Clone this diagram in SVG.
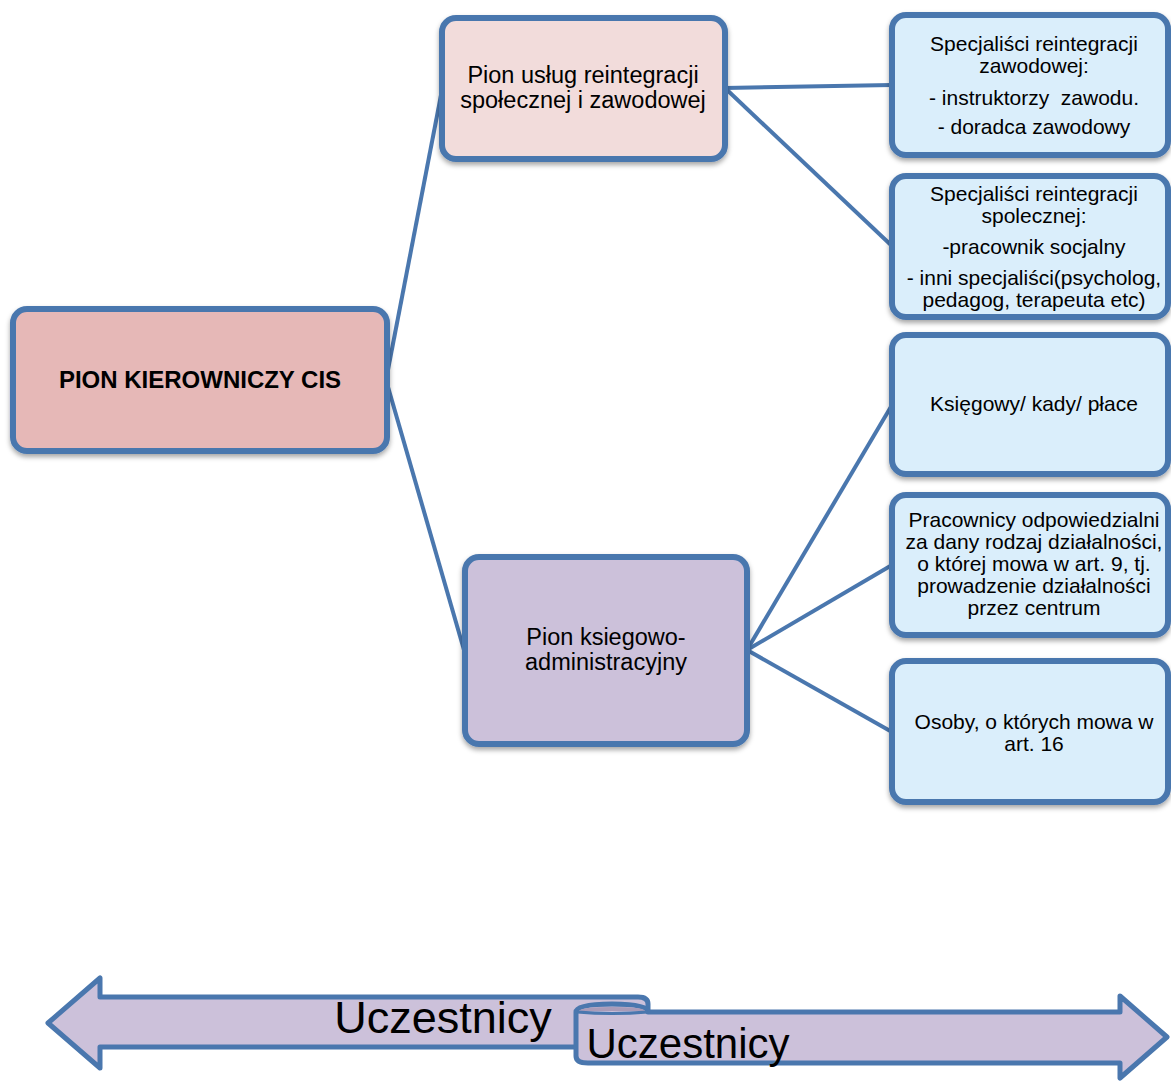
<svg xmlns="http://www.w3.org/2000/svg" width="1171" height="1081" viewBox="0 0 1171 1081">
<defs>
<filter id="sh" x="-10%" y="-10%" width="120%" height="130%">
<feDropShadow dx="0" dy="3" stdDeviation="2.5" flood-color="#000" flood-opacity="0.35"/>
</filter>
<style>
.box{stroke:#4a77ae;stroke-width:6;filter:url(#sh)}
.root{fill:#e6b8b7}
.l1a{fill:#f2dcdb}
.l1b{fill:#ccc1da}
.leaf{fill:#daeefb}
.ln{stroke:#4a77ae;stroke-width:4;fill:none}
text{font-family:"Liberation Sans",Arial,sans-serif;fill:#000;text-anchor:middle}
.t24{font-size:23.5px}
.t21{font-size:21px}
.arr{fill:#ccc1da;stroke:#4a77ae;stroke-width:5;stroke-linejoin:round}
</style>
</defs>
<rect width="1171" height="1081" fill="#fff"/>
<g id="connectors">
<line class="ln" x1="386" y1="380" x2="442" y2="90"/>
<line class="ln" x1="386" y1="380" x2="464" y2="650"/>
<line class="ln" x1="725" y1="88" x2="892" y2="85"/>
<line class="ln" x1="725" y1="88" x2="892" y2="246"/>
<line class="ln" x1="747" y1="650" x2="892" y2="405"/>
<line class="ln" x1="747" y1="650" x2="892" y2="565"/>
<line class="ln" x1="747" y1="650" x2="892" y2="732"/>
</g>
<g id="root">
<rect class="box root" x="13" y="309" width="374" height="142" rx="14"/>
<text x="200" y="388" font-size="24" font-weight="bold">PION KIEROWNICZY CIS</text>
</g>
<g id="pion-uslug">
<rect class="box l1a" x="442" y="18" width="283" height="141" rx="14"/>
<text class="t24" x="583" y="83">Pion usług reintegracji</text>
<text class="t24" x="583" y="108">społecznej i zawodowej</text>
</g>
<g id="pion-ksiegowo">
<rect class="box l1b" x="465" y="557" width="282" height="187" rx="14"/>
<text class="t24" x="606" y="645">Pion ksiegowo-</text>
<text class="t24" x="606" y="670">administracyjny</text>
</g>
<g id="spec-zawodowej">
<rect class="box leaf" x="892" y="15" width="276" height="140" rx="14"/>
<text class="t21" x="1034" y="51">Specjaliści reintegracji</text>
<text class="t21" x="1034" y="73">zawodowej:</text>
<text class="t21" x="1034" y="105">- instruktorzy&#160; zawodu.</text>
<text class="t21" x="1034" y="134">- doradca zawodowy</text>
</g>
<g id="spec-spolecznej">
<rect class="box leaf" x="892" y="176" width="276" height="141" rx="14"/>
<text class="t21" x="1034" y="201">Specjaliści reintegracji</text>
<text class="t21" x="1034" y="223">spolecznej:</text>
<text class="t21" x="1034" y="254">-pracownik socjalny</text>
<text class="t21" x="1034" y="285">- inni specjaliści(psycholog,</text>
<text class="t21" x="1034" y="307">pedagog, terapeuta etc)</text>
</g>
<g id="ksiegowy">
<rect class="box leaf" x="892" y="335" width="276" height="139" rx="14"/>
<text class="t21" x="1034" y="411">Księgowy/ kady/ płace</text>
</g>
<g id="pracownicy">
<rect class="box leaf" x="892" y="495" width="276" height="140" rx="14"/>
<text class="t21" x="1034" y="527">Pracownicy odpowiedzialni</text>
<text class="t21" x="1034" y="549">za dany rodzaj działalności,</text>
<text class="t21" x="1034" y="571">o której mowa w art. 9, tj.</text>
<text class="t21" x="1034" y="593">prowadzenie działalności</text>
<text class="t21" x="1034" y="615">przez centrum</text>
</g>
<g id="osoby">
<rect class="box leaf" x="892" y="661" width="276" height="141" rx="14"/>
<text class="t21" x="1034" y="729">Osoby, o których mowa w</text>
<text class="t21" x="1034" y="751">art. 16</text>
</g>
<g id="uczestnicy-left">
<path class="arr" d="M48,1023 L100,978 L100,997 L638,997 Q648,997 648,1004 L648,1047 L100,1047 L100,1068 Z"/>
<text x="443" y="1033" font-size="45">Uczestnicy</text>
</g>
<g id="uczestnicy-right">
<path class="arr" d="M576,1012 Q576,1004 612,1004 Q648,1004 648,1012 L1120,1012 L1120,996 L1167,1037 L1120,1078 L1120,1063 L588,1063 Q576,1063 576,1056 Z"/>
<path d="M579,1011 Q581,1007 612,1007 Q644,1007 645,1011 Z" fill="#a99bb8" stroke="none"/>
<path d="M577,1012 Q612,1015 648,1012" stroke="#4a77ae" stroke-width="3" fill="none"/>
<text x="688" y="1058" font-size="42">Uczestnicy</text>
</g>
</svg>
